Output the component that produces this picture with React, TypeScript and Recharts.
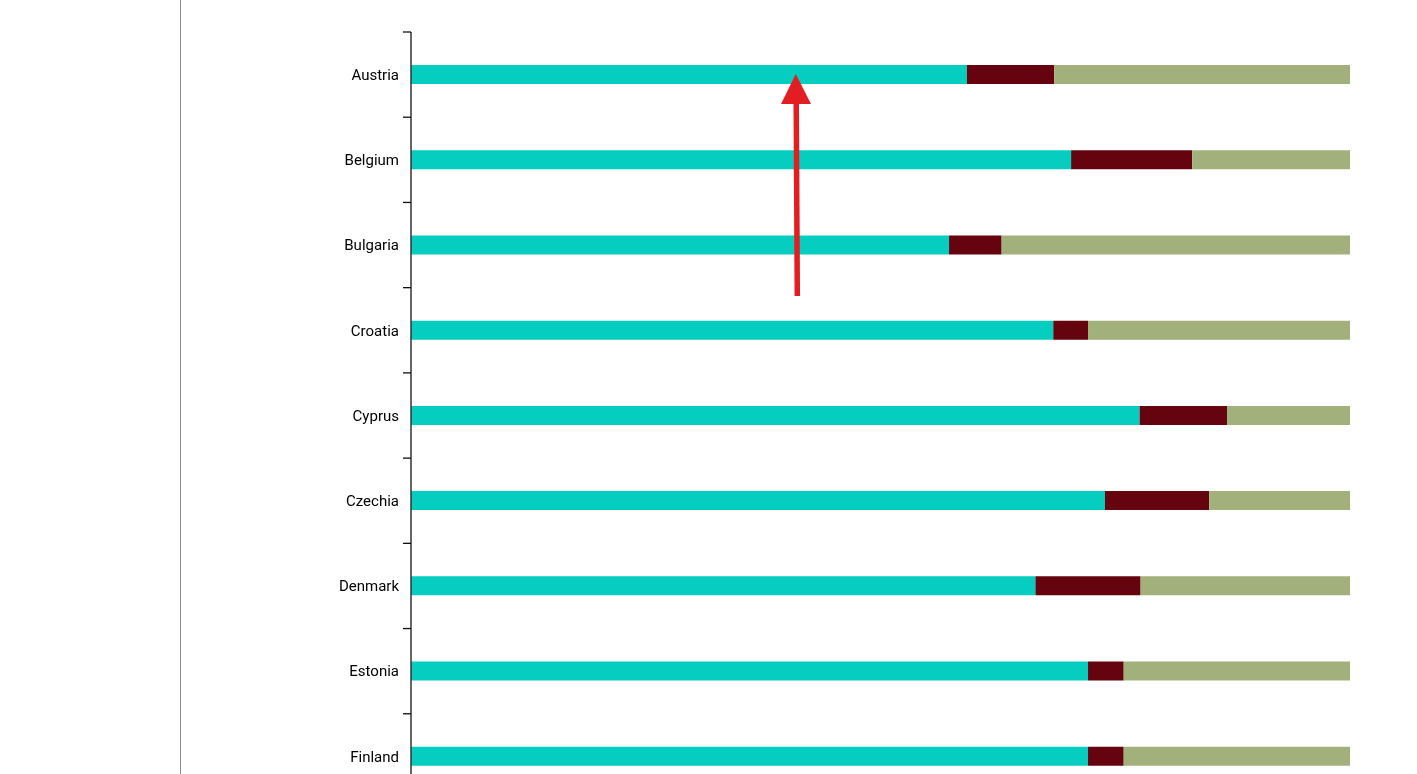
import React from "react";
import { BarChart, Bar, XAxis, YAxis } from "recharts";

const countries = ["Austria", "Belgium", "Bulgaria", "Croatia", "Cyprus", "Czechia", "Denmark", "Estonia", "Finland"];
const seriesA = [59.2, 70.3, 57.3, 68.4, 77.6, 73.9, 66.5, 72.1, 72.1];
const seriesB = [9.3, 12.9, 5.6, 3.7, 9.3, 11.1, 11.2, 3.8, 3.8];
const seriesC = [31.5, 16.8, 37.1, 27.9, 13.1, 15.0, 22.3, 24.1, 24.1];

const data = countries.map((c, i) => ({ country: c, a: seriesA[i], b: seriesB[i], c: seriesC[i] }));

const CHART_W = 1400;
const CHART_H = 811;
const MARGIN = { top: 24, right: 58, bottom: 20, left: 0 };
const PLOT_H = CHART_H - MARGIN.top - MARGIN.bottom;
const BAND = PLOT_H / countries.length;
const TICK_SIZE = 8;
const TICK_MARGIN = 4;

function CountryTick(props: any) {
  const { x, y, payload } = props;
  const axisX = x + TICK_SIZE + TICK_MARGIN;
  return (
    <g>
      <line x1={axisX - TICK_SIZE} x2={axisX} y1={y - BAND / 2} y2={y - BAND / 2} stroke="#111" strokeWidth={1.3} />
      <text x={x} y={y} dy="0.35em" textAnchor="end" fontSize={15} fill="#000" fontFamily="Roboto">
        {payload.value}
      </text>
    </g>
  );
}

export default function App() {
  return (
    <div style={{ position: "relative", width: CHART_W, height: CHART_H, fontFamily: "Roboto" }}>
      <div style={{ position: "fixed", left: 180, top: 0, width: 1, height: "100vh", background: "#8c8c8c" }} />
      <BarChart width={CHART_W} height={CHART_H} data={data} layout="vertical" margin={MARGIN} barSize={19}>
        <XAxis type="number" domain={[0, 100]} hide />
        <YAxis
          type="category"
          dataKey="country"
          width={403}
          tickLine={false}
          tickSize={TICK_SIZE}
          tickMargin={TICK_MARGIN}
          axisLine={{ stroke: "#333", strokeWidth: 1.5 }}
          tick={<CountryTick />}
          interval={0}
        />
        <Bar dataKey="a" stackId="s" fill="#05CEC1" isAnimationActive={false} />
        <Bar dataKey="b" stackId="s" fill="#65040F" isAnimationActive={false} />
        <Bar dataKey="c" stackId="s" fill="#A2B17B" isAnimationActive={false} />
      </BarChart>
      <svg style={{ position: "absolute", left: 0, top: 0, pointerEvents: "none" }} width={CHART_W} height={CHART_H}>
        <line x1={789.3} y1={288} x2={788.2} y2={92} stroke="#E21E23" strokeWidth={5.5} />
        <polygon points="787.8,66 803,96 773,96" fill="#E21E23" />
      </svg>
    </div>
  );
}
